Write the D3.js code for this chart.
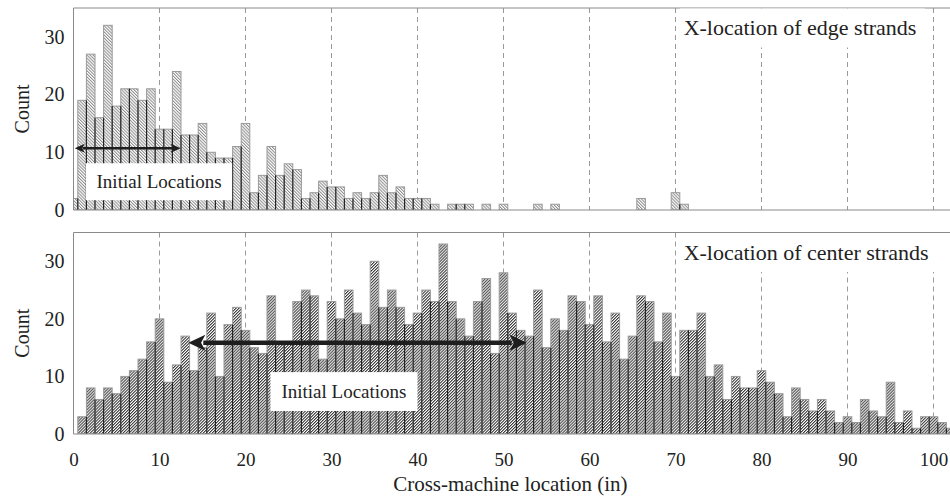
<!DOCTYPE html>
<html>
<head>
<meta charset="utf-8">
<script src="https://cdn.jsdelivr.net/npm/d3@7"></script>
<style>
  html, body { margin: 0; padding: 0; background: #fff; }
  svg { display: block; }
  text { font-family: "Liberation Serif", "Times New Roman", serif; fill: #222; }
</style>
</head>
<body>
<svg id="chart" width="950" height="496"></svg>
<script>
// ---------- data ----------
const edgeCounts = [2,19,27,16,32,18,21,21,19,21,
  14,14,24,13,13,15,10,9,9,11,
  15,3,6,11,6,8,7,2,3,5,
  4,4,2,3,2,3,6,3,4,2,
  2,2,1,0,1,1,1,0,1,0,
  1,0,0,0,1,0,1,0,0,0,
  0,0,0,0,0,0,2,0,0,0,
  3,1];
const centerCounts = [0,3,8,6,8,7,10,11,13,16,
  20,9,12,17,11,15,21,10,19,22,
  18,15,14,24,16,16,23,25,24,13,
  23,20,25,21,19,30,22,25,22,19,
  21,25,23,33,23,20,17,23,27,14,
  28,21,18,17,25,15,20,18,24,23,
  19,24,16,21,13,17,24,23,16,21,
  10,18,18,21,10,12,6,10,8,8,
  11,9,7,3,8,6,4,6,4,2,
  3,2,6,4,3,9,2,4,1,3,
  3,2,1];
const xTicks = [0,10,20,30,40,50,60,70,80,90,100];
const yTicks = [0,10,20,30];
const panelTitles = ["X-location of edge strands", "X-location of center strands"];
const xLabel = "Cross-machine location (in)";
const yLabel = "Count";
const arrowLabel = "Initial Locations";
// annotation extents in data units (x in inches, y in counts)
const arrowSpans = [[0.15, 12.45, 10.7], [13.35, 52.7, 15.85]];
const labelBoxes = [[1.45, 18.45, 8.1, 1.7], [22.9, 40.0, 10.75, 4.0]];

// ---------- layout ----------
const svg = d3.select("#chart");
const W = 950;
const left = 73.5;
const x = d3.scaleLinear().domain([0, (W - left) / 8.6]).range([left, W]);
const panels = [
  {counts: edgeCounts, top: 8, bottom: 210, pat: "hatchLight"},
  {counts: centerCounts, top: 232.5, bottom: 434, pat: "hatchDark"}
];

const defs = svg.append("defs");
// light hatch: "\" lines
const p1 = defs.append("pattern").attr("id", "hatchLight")
  .attr("patternUnits", "userSpaceOnUse").attr("width", 2.2).attr("height", 4)
  .attr("patternTransform", "rotate(-45)");
p1.append("rect").attr("width", 2.2).attr("height", 4).attr("fill", "#fff");
p1.append("rect").attr("width", 1.0).attr("height", 4).attr("fill", "#8c8c8c");
// dark hatch: "/" lines
const p2 = defs.append("pattern").attr("id", "hatchDark")
  .attr("patternUnits", "userSpaceOnUse").attr("width", 2.1).attr("height", 4)
  .attr("patternTransform", "rotate(45)");
p2.append("rect").attr("width", 2.1).attr("height", 4).attr("fill", "#fff");
p2.append("rect").attr("width", 1.05).attr("height", 4).attr("fill", "#3a3a3a");

svg.append("rect").attr("width", 950).attr("height", 496).attr("fill", "#fff");

panels.forEach((p, k) => {
  const y = d3.scaleLinear().domain([0, 35]).range([p.bottom, p.top]);
  const g = svg.append("g");
  const clipId = "clip" + k;
  defs.append("clipPath").attr("id", clipId).append("rect")
    .attr("x", left).attr("y", p.top).attr("width", W - left).attr("height", p.bottom - p.top);

  // dashed grid
  g.selectAll("line.grid").data(xTicks.filter(d => d > 0)).enter().append("line")
    .attr("x1", d => x(d)).attr("x2", d => x(d))
    .attr("y1", p.top).attr("y2", p.bottom)
    .attr("stroke", "#9a9a9a").attr("stroke-width", 1).attr("stroke-dasharray", "5,4");

  const bars = p.counts.map((c, i) => ({i, c})).filter(d => d.c > 0);
  const bg = g.append("g").attr("clip-path", `url(#${clipId})`);
  bg.selectAll("rect.bar").data(bars).enter().append("rect")
    .attr("x", d => x(d.i - 0.5)).attr("width", d => x(d.i + 0.5) - x(d.i - 0.5))
    .attr("y", d => y(d.c)).attr("height", d => y(0) - y(d.c))
    .attr("fill", `url(#${p.pat})`).attr("stroke", "#9a9a9a").attr("stroke-width", 1);
  // dark separators between adjacent bars
  const seps = p.counts.slice(0, -1).map((c, i) => ({i, h: Math.min(c, p.counts[i + 1])})).filter(d => d.h > 0);
  bg.selectAll("line.sep").data(seps).enter().append("line")
    .attr("x1", d => x(d.i + 0.5)).attr("x2", d => x(d.i + 0.5))
    .attr("y1", y(0)).attr("y2", d => y(d.h))
    .attr("stroke", "#1e1e1e").attr("stroke-width", 1.1);

  // frame lines
  g.append("line").attr("x1", left).attr("x2", W).attr("y1", p.top).attr("y2", p.top).attr("stroke", "#8a8a8a");
  g.append("line").attr("x1", left).attr("x2", W).attr("y1", p.bottom).attr("y2", p.bottom).attr("stroke", "#8a8a8a");
  g.append("line").attr("x1", left).attr("x2", left).attr("y1", p.top).attr("y2", p.bottom).attr("stroke", "#8a8a8a");

  // y axis labels
  const ya = g.append("g").attr("transform", `translate(${left},0)`)
    .call(d3.axisLeft(y).tickValues(yTicks).tickSize(0).tickPadding(9));
  ya.select(".domain").remove();
  ya.selectAll("text").style("font-family", '"Liberation Serif", serif').style("font-size", "20px").attr("fill", "#222");

  g.append("text").attr("transform", `translate(22,${(p.top + p.bottom) / 2}) rotate(-90)`)
    .attr("text-anchor", "middle").attr("dy", "0.35em").style("font-size", "20px").text(yLabel);

  // title with white backing
  const tb = k === 0 ? [70.5, 99.0] : [70.5, 100.9];
  g.append("rect").attr("x", x(tb[0])).attr("width", x(tb[1]) - x(tb[0]))
    .attr("y", p.top + 0.5).attr("height", 39).attr("fill", "#fff");
  g.append("text").attr("x", x(70.95)).attr("y", p.top + 27).style("font-size", "22px").text(panelTitles[k]);

  // label box
  const lb = labelBoxes[k];
  g.append("rect").attr("x", x(lb[0])).attr("width", x(lb[1]) - x(lb[0]))
    .attr("y", y(lb[2])).attr("height", y(lb[3]) - y(lb[2])).attr("fill", "#fff");
  g.append("text").attr("x", (x(lb[0]) + x(lb[1])) / 2).attr("y", (y(lb[2]) + y(lb[3])) / 2)
    .attr("dy", "0.35em").attr("text-anchor", "middle").style("font-size", "19px").text(arrowLabel);

  // double arrow
  const a = arrowSpans[k];
  const ax1 = x(a[0]), ax2 = x(a[1]), ay = y(a[2]);
  const hl = k === 0 ? 10 : 17, hw = k === 0 ? 4.5 : 8, lw = k === 0 ? 2.6 : 4.5;
  g.append("line").attr("x1", ax1 + hl - 2).attr("x2", ax2 - hl + 2).attr("y1", ay).attr("y2", ay)
    .attr("stroke", "#1e1e1e").attr("stroke-width", lw);
  g.append("path").attr("d", `M${ax1},${ay} L${ax1 + hl},${ay - hw} L${ax1 + hl * 0.75},${ay} L${ax1 + hl},${ay + hw} Z`).attr("fill", "#1e1e1e");
  g.append("path").attr("d", `M${ax2},${ay} L${ax2 - hl},${ay - hw} L${ax2 - hl * 0.75},${ay} L${ax2 - hl},${ay + hw} Z`).attr("fill", "#1e1e1e");

  if (k === 1) {
    const xa = svg.append("g").attr("transform", `translate(0,${p.bottom})`)
      .call(d3.axisBottom(x).tickValues(xTicks).tickSize(0).tickPadding(19));
    xa.select(".domain").remove();
    xa.selectAll("text").style("font-family", '"Liberation Serif", serif').style("font-size", "19px").attr("fill", "#222");
  }
});

svg.append("text").attr("x", x(50.8)).attr("y", 491).attr("text-anchor", "middle")
  .style("font-size", "21px").text(xLabel);
</script>
</body>
</html>
